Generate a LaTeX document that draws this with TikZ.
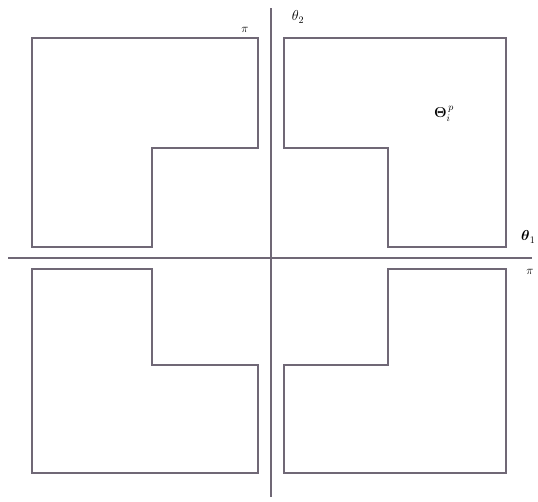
\documentclass[tikz,border=0pt]{standalone}
\usepackage{amsmath,amssymb}
\usepackage{tikz}
\usetikzlibrary{positioning}
\definecolor{linegray}{RGB}{112,104,118}
\begin{document}
\begin{tikzpicture}[
      x=1pt,y=-1pt,
      axis/.style={draw=linegray,line width=1.8pt},
      region/.style={draw=linegray,line width=1.4pt,line join=miter},
      lbl/.style={inner sep=1pt,font=\Large}]
    \useasboundingbox (0,0) rectangle (538,501);

    % axes
    \coordinate (xstart) at (8,258);
    \coordinate (xend) at (532,258);
    \coordinate (ystart) at (271,8);
    \coordinate (yend) at (271,497);
    \draw[axis] (xstart) -- (xend);
    \draw[axis] (ystart) -- (yend);

    % the four regions
    \draw[region] (32,38) -- (258,38) -- (258,148) -- (152,148)
      -- (152,247) -- (32,247) -- cycle;
    \draw[region] (284,38) -- (506,38) -- (506,247) -- (388,247)
      -- (388,148) -- (284,148) -- cycle;
    \draw[region] (32,269) -- (152,269) -- (152,365) -- (258,365)
      -- (258,473) -- (32,473) -- cycle;
    \draw[region] (388,269) -- (506,269) -- (506,473) -- (284,473)
      -- (284,365) -- (388,365) -- cycle;

    % labels
    \node[lbl] (thtwo) at (298,17) {$\theta_2$};
    \node[lbl,font=\large] (pitop) at (245,30) {$\pi$};
    \node[lbl,anchor=west] (thone) at (520,237) {$\boldsymbol{\theta}_1$};
    \node[lbl,font=\large] (piright) at (530,272) {$\pi$};
    \node[lbl] (theta) at (444,114) {$\boldsymbol{\Theta}_i^{\,p}$};
  \end{tikzpicture}
\end{document}
